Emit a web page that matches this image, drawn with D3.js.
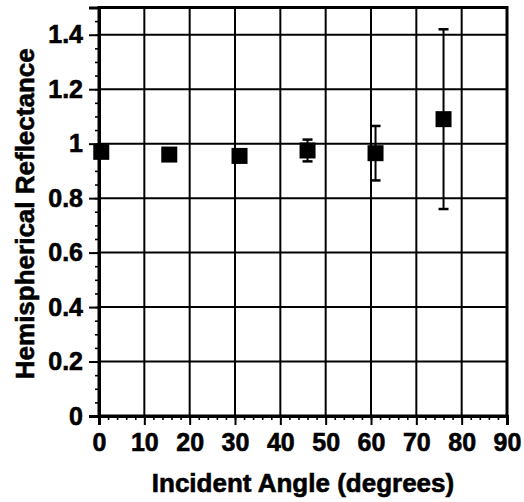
<!DOCTYPE html>
<html>
<head>
<meta charset="utf-8">
<script src="https://cdn.jsdelivr.net/npm/d3@7"></script>
<style>
html,body{margin:0;padding:0;background:#fff;}
svg{display:block;}
text{font-family:"Liberation Sans",Arial,Helvetica,sans-serif;font-weight:bold;fill:#000;stroke:#000;stroke-width:0.6px;}
</style>
</head>
<body>
<script>
// Data
const angles = [0.5, 15.5, 31, 46, 61, 76];
const reflectance = [0.97, 0.96, 0.955, 0.975, 0.965, 1.09];
const errors = [0, 0, 0, 0.04, 0.10, 0.33];
const xTicks = [0, 10, 20, 30, 40, 50, 60, 70, 80, 90];
const yTicks = [0, 0.2, 0.4, 0.6, 0.8, 1, 1.2, 1.4];
const xTitle = "Incident Angle (degrees)";
const yTitle = "Hemispherical Reflectance";

const W = 524, H = 502;
const m = {left: 99, right: 17, top: 7.5, bottom: 86};
const iw = W - m.left - m.right, ih = H - m.top - m.bottom;

const svg = d3.select("body").append("svg").attr("width", W).attr("height", H);
const g = svg.append("g").attr("transform", `translate(${m.left},${m.top})`);

const x = d3.scaleLinear().domain([0, 90]).range([0, iw]);
const y = d3.scaleLinear().domain([0, 1.5]).range([ih, 0]);

// Grid lines
g.append("g").selectAll("line").data(xTicks.slice(1, -1)).join("line")
  .attr("x1", d => x(d)).attr("x2", d => x(d)).attr("y1", 0).attr("y2", ih)
  .attr("stroke", "#000").attr("stroke-width", 2);
g.append("g").selectAll("line").data(yTicks.slice(1)).join("line")
  .attr("x1", 0).attr("x2", iw).attr("y1", d => y(d)).attr("y2", d => y(d))
  .attr("stroke", "#000").attr("stroke-width", 2);

// Border
g.append("rect").attr("x", 0).attr("y", 0).attr("width", iw).attr("height", ih)
  .attr("fill", "none").attr("stroke", "#000").attr("stroke-width", 3);

// Minor ticks
const xMinor = d3.range(0, 90.001, 2);
const yMinor = d3.range(0, 1.5001, 0.05);
const xAxisMinor = d3.axisBottom(x).tickValues(xMinor).tickSize(4).tickFormat("");
const yAxisMinor = d3.axisLeft(y).tickValues(yMinor).tickSize(4).tickFormat("");
g.append("g").attr("transform", `translate(0,${ih})`).call(xAxisMinor)
  .call(a => { a.select(".domain").remove(); a.selectAll("line").attr("stroke-width", 1.6); });
g.append("g").call(yAxisMinor)
  .call(a => { a.select(".domain").remove(); a.selectAll("line").attr("stroke-width", 1.6); });

// Major axes
const xAxis = d3.axisBottom(x).tickValues(xTicks).tickSize(9).tickPadding(8).tickFormat(d3.format("d"));
const yAxis = d3.axisLeft(y).tickValues(yTicks).tickSize(10).tickPadding(6).tickFormat(d => d === 0 || d === 1 ? d3.format("d")(d) : d3.format(".1f")(d));
g.append("g").attr("transform", `translate(0,${ih})`).call(xAxis)
  .call(a => {
    a.select(".domain").attr("stroke-width", 3);
    a.selectAll("line").attr("stroke-width", 2);
    a.selectAll("text").style("font-size", "25px").attr("fill", "#000");
  });
g.append("g").call(yAxis)
  .call(a => {
    a.select(".domain").attr("stroke-width", 3);
    a.selectAll("line").attr("stroke-width", 2);
    a.selectAll("text").style("font-size", "25px").attr("fill", "#000");
  });

// Error bars
const eb = g.append("g");
angles.forEach((a, i) => {
  if (errors[i] <= 0) return;
  const cx = x(a), y1 = y(reflectance[i] + errors[i]), y2 = y(reflectance[i] - errors[i]);
  eb.append("line").attr("x1", cx).attr("x2", cx).attr("y1", y1).attr("y2", y2)
    .attr("stroke", "#000").attr("stroke-width", 2);
  [y1, y2].forEach(yy => eb.append("line").attr("x1", cx - 5).attr("x2", cx + 5)
    .attr("y1", yy).attr("y2", yy).attr("stroke", "#000").attr("stroke-width", 2.5));
});

// Square markers
const s = 16;
g.append("g").selectAll("rect").data(angles).join("rect")
  .attr("x", (d) => x(d) - s / 2)
  .attr("y", (d, i) => y(reflectance[i]) - s / 2)
  .attr("width", s).attr("height", s).attr("fill", "#000");

// Titles
svg.append("text").attr("x", m.left + iw / 2).attr("y", 492)
  .attr("text-anchor", "middle").style("font-size", "26px").text(xTitle);
svg.append("text").attr("transform", `translate(34,${m.top + ih / 2 + 2}) rotate(-90)`)
  .attr("text-anchor", "middle").style("font-size", "26px").text(yTitle);
</script>
</body>
</html>
